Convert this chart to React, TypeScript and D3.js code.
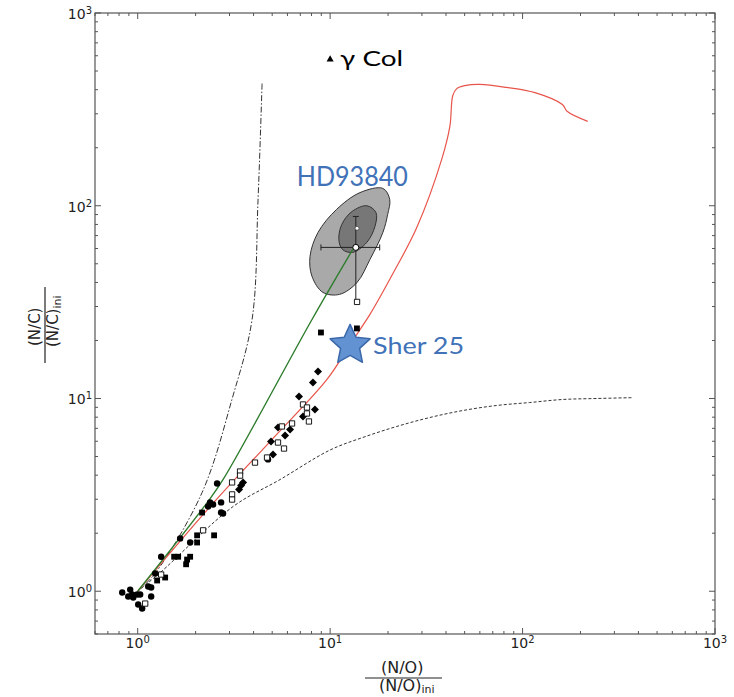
import * as d3 from "d3"

const W = 734
const H = 697
const margin = { top: 13, right: 19, bottom: 63, left: 95 }

// axis decades, shared by both axes
const majorTicks = [1, 10, 100, 1000]
const tickExponents = ["0", "1", "2", "3"]

// model tracks: [ (N/O)/(N/O)ini , (N/C)/(N/C)ini ]
const redTrack: [number, number][] = [
  [1, 1], [2.38, 2.75], [4.87, 5.98], [9.63, 12.55], [12.7, 19.1], [16.1, 27.3],
  [21.2, 44.5], [28.2, 77.1], [38, 174], [41.9, 258], [43.4, 373], [45.5, 405],
  [50.1, 420], [59.9, 426], [82.6, 411], [116, 386], [161, 335], [171, 308], [218, 274],
]
const greenTrack: [number, number][] = [
  [1, 1], [2.3, 2.89], [2.78, 3.8], [8.05, 25.7], [13.2, 60],
]
const dashDotTrack: [number, number][] = [
  [1, 1], [1.233, 1.24], [2.16, 3.25], [3.09, 9.9], [3.93, 25.7], [4.22, 107], [4.43, 431],
]
const dashedTrack: [number, number][] = [
  [1, 1], [1.31, 1.25], [3.13, 2.75], [5.5, 3.8], [9.98, 5.4], [14.8, 6.28], [22.2, 7.16],
  [33, 7.97], [48.9, 8.66], [73.3, 9.2], [109, 9.53], [161, 9.88], [243, 10], [373, 10.1],
]

// observed stars
const filledCircles: [number, number][] = [
  [0.831, 0.985], [0.914, 1.02], [0.936, 0.961], [0.893, 0.939], [0.948, 0.928], [0.994, 0.961],
  [1.03, 0.961], [1.006, 0.853], [1.055, 0.813], [1.134, 1.058], [1.175, 1.045], [1.175, 0.939],
  [1.233, 1.236], [1.324, 1.51], [1.662, 1.88], [1.873, 1.79], [2.322, 2.75], [2.378, 2.89],
  [2.465, 2.82], [2.713, 2.89], [2.713, 2.56], [2.778, 2.53], [2.586, 3.62], [4.756, 4.83],
]
const filledSquares: [number, number][] = [
  [1.262, 1.137], [1.389, 1.178], [1.547, 1.51], [1.623, 1.51], [1.785, 1.38], [1.806, 1.46],
  [1.873, 1.51], [2.036, 1.95], [2.036, 1.79], [2.495, 1.95], [2.161, 2.56], [8.96, 22.0], [13.78, 23.1],
]
const openSquares: [number, number][] = [
  [1.094, 0.863], [1.324, 1.221], [2.187, 2.07], [3.094, 3.67], [3.094, 3.18], [3.094, 2.99],
  [3.404, 4.18], [3.404, 3.98], [4.07, 4.65], [4.7, 4.94], [5.36, 5.91], [5.76, 5.5], [5.62, 7.16],
  [6.34, 7.42], [7.23, 9.31], [7.58, 8.98], [7.58, 8.36], [7.76, 7.6], [13.8, 31.7],
]
const filledDiamonds: [number, number][] = [
  [3.363, 3.37], [3.445, 3.54], [3.528, 3.67], [5.05, 5.12], [4.93, 5.98], [5.83, 6.43],
  [5.36, 7.07], [6.19, 6.9], [7.23, 8.06], [8.34, 8.77], [6.89, 10.24], [8.14, 12.11], [8.65, 13.81],
]

// HD93840 confidence contours and point
const hdOuter: [number, number][] = [
  [18.8, 123], [20.4, 108], [19.9, 90], [18.8, 72.7], [16.1, 52.6], [13.8, 40], [11.2, 34.7],
  [9.18, 35.5], [8.05, 43], [7.86, 54.6], [8.65, 72.7], [10.8, 95.7], [14.3, 117],
]
const hdInner: [number, number][] = [
  [15.5, 100], [17.3, 92.3], [17.1, 78.1], [15.5, 64.5], [13.1, 57.3], [11.6, 59.3],
  [11.1, 66.8], [11.5, 80], [13.0, 93.4],
]
const hdPoint: [number, number] = [13.6, 60.8]
const hdAltPoint: [number, number] = [13.8, 76.4]
const hdXErr = [8.96, 18.1]
const hdYErr = [31.7, 88]

const gammaCol: [number, number] = [10, 574]
const sher25: [number, number] = [12.7, 19.1]

const BLUE = "#4172b8"
const FONT = "DejaVu Sans"

export default function App() {
  const x = d3.scaleLog().domain([0.6, 1000]).range([margin.left, W - margin.right])
  const y = d3.scaleLog().domain([0.6, 1000]).range([H - margin.bottom, margin.top])
  const [x0, x1] = x.range()
  const [y0, y1] = y.range()

  const minorTicks: number[] = []
  for (let k = -1; k <= 2; k++) {
    for (let m = 2; m <= 9; m++) {
      const v = m * Math.pow(10, k)
      if (v > 0.6 && v < 1000) minorTicks.push(v)
    }
  }

  const line = d3
    .line<[number, number]>()
    .x((d) => x(d[0]))
    .y((d) => y(d[1]))
    .curve(d3.curveCatmullRom.alpha(0.5))
  const closed = d3
    .line<[number, number]>()
    .x((d) => x(d[0]))
    .y((d) => y(d[1]))
    .curve(d3.curveCatmullRomClosed.alpha(0.5))

  const sq = d3.symbol(d3.symbolSquare, 34)()!
  const osq = d3.symbol(d3.symbolSquare, 28)()!
  const dia = d3.symbol(d3.symbolSquare, 32)()!
  const tri = d3.symbol(d3.symbolTriangle, 22)()!

  // five-pointed star, a bit fuller than d3's symbolStar
  const starPts: [number, number][] = d3.range(10).map((i) => [(i * Math.PI) / 5, i % 2 ? 10 : 21])
  const star = d3.lineRadial().curve(d3.curveLinearClosed)(starPts)!

  const frame = "#555"

  return (
    <svg width={W} height={H} style={{ position: "absolute", left: 0, top: 0, background: "#fff" }} fontFamily={FONT}>
      {/* tracks */}
      <path d={line(dashedTrack)!} fill="none" stroke="#333" strokeWidth={1} strokeDasharray="3,2" />
      <path d={line(dashDotTrack)!} fill="none" stroke="#333" strokeWidth={1} strokeDasharray="6,2,1.5,2" />
      <path d={line(redTrack)!} fill="none" stroke="#e8544a" strokeWidth={1.2} />

      {/* HD93840 contours */}
      <path d={closed(hdOuter)!} fill="#a9a9a9" stroke="#333" strokeWidth={1} />
      <path d={closed(hdInner)!} fill="#777" stroke="#333" strokeWidth={1} />
      <path d={line(greenTrack)!} fill="none" stroke="#2e7d2e" strokeWidth={1.4} />

      {/* error bars */}
      <g stroke="#222" strokeWidth={1}>
        <line x1={x(hdXErr[0])} x2={x(hdXErr[1])} y1={y(hdPoint[1])} y2={y(hdPoint[1])} />
        <line x1={x(hdXErr[0])} x2={x(hdXErr[0])} y1={y(hdPoint[1]) - 3} y2={y(hdPoint[1]) + 3} />
        <line x1={x(hdXErr[1])} x2={x(hdXErr[1])} y1={y(hdPoint[1]) - 3} y2={y(hdPoint[1]) + 3} />
        <line x1={x(hdPoint[0])} x2={x(hdPoint[0])} y1={y(hdYErr[0])} y2={y(hdYErr[1])} />
        <line x1={x(hdPoint[0]) - 3} x2={x(hdPoint[0]) + 3} y1={y(hdYErr[1])} y2={y(hdYErr[1])} />
      </g>

      {/* observed samples */}
      {filledCircles.map((d, i) => (
        <circle key={"c" + i} cx={x(d[0])} cy={y(d[1])} r={3.2} fill="#000" />
      ))}
      {filledSquares.map((d, i) => (
        <path key={"s" + i} d={sq} transform={`translate(${x(d[0])},${y(d[1])})`} fill="#000" />
      ))}
      {filledDiamonds.map((d, i) => (
        <path key={"d" + i} d={dia} transform={`translate(${x(d[0])},${y(d[1])}) rotate(45)`} fill="#000" />
      ))}
      {openSquares.map((d, i) => (
        <path key={"o" + i} d={osq} transform={`translate(${x(d[0])},${y(d[1])})`} fill="#fff" stroke="#000" strokeWidth={0.9} />
      ))}

      <circle cx={x(hdPoint[0])} cy={y(hdPoint[1])} r={3} fill="#fff" stroke="#000" strokeWidth={1} />
      <circle cx={x(hdAltPoint[0])} cy={y(hdAltPoint[1])} r={2} fill="#fff" stroke="#444" strokeWidth={0.8} />

      {/* labels of named stars */}
      <path d={tri} transform={`translate(${x(gammaCol[0])},${y(gammaCol[1])})`} fill="#000" />
      <text x={x(gammaCol[0]) + 10} y={y(gammaCol[1]) + 7} fontSize={22} fill="#000" fontFamily="Lato" textLength={63} lengthAdjust="spacingAndGlyphs">
        γ Col
      </text>
      <text x={x(hdPoint[0]) - 59} y={y(hdPoint[1]) - 61} fontSize={26} fill={BLUE} fontFamily="Lato" textLength={111} lengthAdjust="spacingAndGlyphs">
        HD93840
      </text>
      <path d={star} transform={`translate(${x(sher25[0])},${y(sher25[1]) + 1})`} fill="#6392d2" stroke="#3b68aa" strokeWidth={1.5} strokeLinejoin="round" />
      <text x={x(sher25[0]) + 23} y={y(sher25[1]) + 10} fontSize={24} fill={BLUE} fontFamily="Lato" textLength={91} lengthAdjust="spacingAndGlyphs">
        Sher 25
      </text>

      {/* frame and ticks */}
      <rect x={x0} y={y1} width={x1 - x0} height={y0 - y1} fill="none" stroke={frame} strokeWidth={1.2} />
      <g stroke={frame} strokeWidth={1}>
        {majorTicks.map((v) => (
          <g key={"mx" + v}>
            <line x1={x(v)} x2={x(v)} y1={y0} y2={y0 - 6} />
            <line x1={x(v)} x2={x(v)} y1={y1} y2={y1 + 6} />
            <line x1={x0} x2={x0 + 6} y1={y(v)} y2={y(v)} />
            <line x1={x1} x2={x1 - 6} y1={y(v)} y2={y(v)} />
          </g>
        ))}
        {minorTicks.map((v) => (
          <g key={"mn" + v}>
            <line x1={x(v)} x2={x(v)} y1={y0} y2={y0 - 3} />
            <line x1={x(v)} x2={x(v)} y1={y1} y2={y1 + 3} />
            <line x1={x0} x2={x0 + 3} y1={y(v)} y2={y(v)} />
            <line x1={x1} x2={x1 - 3} y1={y(v)} y2={y(v)} />
          </g>
        ))}
      </g>

      {/* tick labels */}
      {majorTicks.map((v, i) => (
        <text key={"tx" + v} x={x(v)} y={y0 + 14} textAnchor="middle" fontSize={14} fill="#222">
          10<tspan fontSize={10} dy={-5}>{tickExponents[i]}</tspan>
        </text>
      ))}
      {majorTicks.map((v, i) => (
        <text key={"ty" + v} x={x0 - 3} y={y(v) + 6} textAnchor="end" fontSize={14} fill="#222">
          10<tspan fontSize={10} dy={-5}>{tickExponents[i]}</tspan>
        </text>
      ))}

      {/* x axis label */}
      <g fill="#222" fontSize={16}>
        <text x={381} y={673}>(N/O)</text>
        <line x1={365} x2={442} y1={678} y2={678} stroke="#222" strokeWidth={1.2} />
        <text x={379} y={691}>
          (N/O)<tspan fontSize={11} dy={2}>ini</tspan>
        </text>
      </g>

      {/* y axis label */}
      <g fill="#222" fontSize={15}>
        <text transform="translate(40,346) rotate(-90)">(N/C)</text>
        <line x1={45} x2={45} y1={287} y2={363} stroke="#222" strokeWidth={1.2} />
        <text transform="translate(58,347) rotate(-90)">
          (N/C)<tspan fontSize={11} dy={3}>ini</tspan>
        </text>
      </g>
    </svg>
  )
}
